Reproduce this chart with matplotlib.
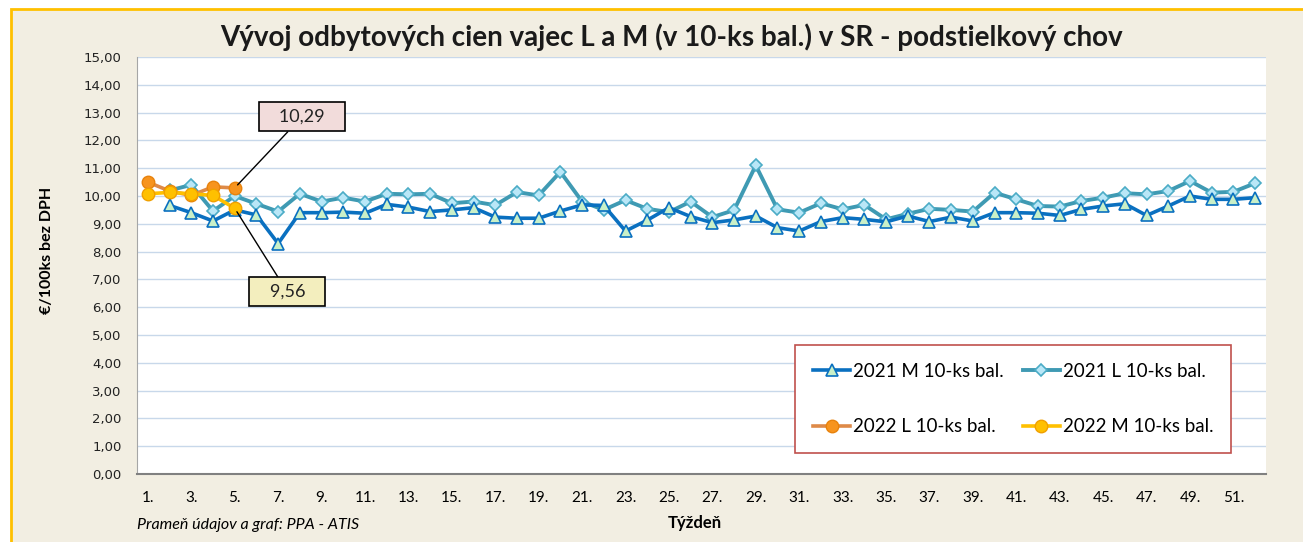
import matplotlib.pyplot as plt
from matplotlib.patches import Rectangle

# tyzdne a ceny (EUR/100 ks bez DPH)
weeks_2021 = list(range(2, 53))
m_2021 = [9.66, 9.40, 9.10, 9.50, 9.32, 8.29, 9.40, 9.40, 9.42, 9.38,
          9.70, 9.60, 9.44, 9.50, 9.58, 9.24, 9.20, 9.20, 9.46, 9.68,
          9.66, 8.74, 9.13, 9.58, 9.26, 9.04, 9.14, 9.28, 8.86, 8.74,
          9.08, 9.22, 9.16, 9.07, 9.28, 9.08, 9.24, 9.10, 9.40, 9.40,
          9.38, 9.30, 9.52, 9.64, 9.72, 9.30, 9.64, 10.00, 9.88, 9.88,
          9.94]
l_2021 = [10.20, 10.40, 9.46, 10.00, 9.72, 9.44, 10.08, 9.80, 9.94, 9.80,
          10.08, 10.06, 10.08, 9.74, 9.80, 9.67, 10.14, 10.02, 10.87, 9.80,
          9.50, 9.85, 9.54, 9.42, 9.80, 9.24, 9.49, 11.10, 9.52, 9.40,
          9.74, 9.52, 9.68, 9.16, 9.36, 9.54, 9.50, 9.44, 10.12, 9.88,
          9.64, 9.62, 9.82, 9.94, 10.10, 10.06, 10.18, 10.54, 10.12, 10.15,
          10.46]
weeks_2022 = [1, 2, 3, 4, 5]
l_2022 = [10.50, 10.18, 10.02, 10.33, 10.29]
m_2022 = [10.08, 10.13, 10.08, 10.02, 9.56]

xticks = list(range(1, 52, 2))
xlabels = ['{}.'.format(w) for w in xticks]
yticks = list(range(0, 16))
ylabels = ['{:.2f}'.format(v).replace('.', ',') for v in yticks]

beige = '#F2EEE2'
calib = ['Lato', 'DejaVu Sans']

fig = plt.figure(figsize=(13.03, 5.42), dpi=100)
fig.patch.set_facecolor('white')
fig.patches.append(Rectangle((10.5 / 1303, -0.1), 1.2, 1 - 8.5 / 542 + 0.1,
                             transform=fig.transFigure, facecolor=beige,
                             edgecolor='#FFC000', lw=2, zorder=-5))

ax = fig.add_axes([137 / 1303, 1 - 474 / 542, (1266 - 137) / 1303, (474 - 57) / 542])
ax.set_facecolor('white')

ax.plot(weeks_2021, l_2021, color='#3F9AB3', lw=2.8, marker='D', markersize=6.5,
        markerfacecolor='#B9E7F7', markeredgecolor='#4BACC6', markeredgewidth=1.2,
        label='2021 L 10-ks bal.', zorder=3)
ax.plot(weeks_2021, m_2021, color='#0A70C0', lw=2.6, marker='^', markersize=8.5,
        markerfacecolor='#C9F0C8', markeredgecolor='#0A70C0', markeredgewidth=1.2,
        label='2021 M 10-ks bal.', zorder=4)
ax.plot(weeks_2022, l_2022, color='#DE8A48', lw=2.6, marker='o', markersize=9,
        markerfacecolor='#F7941E', markeredgecolor='#E8820C', markeredgewidth=1,
        label='2022 L 10-ks bal.', zorder=5)
ax.plot(weeks_2022, m_2022, color='#FFC000', lw=2.6, marker='o', markersize=9,
        markerfacecolor='#FFC000', markeredgecolor='#F0A000', markeredgewidth=1,
        label='2022 M 10-ks bal.', zorder=6)

ax.set_xlim(0.5, 52.5)
ax.set_ylim(0, 15)
ax.set_xticks(xticks)
ax.set_xticklabels(xlabels, family=calib, fontsize=11)
ax.set_yticks(yticks)
ax.set_yticklabels(ylabels, family='DejaVu Sans', fontsize=9.5, color='#222222')
ax.tick_params(axis='x', length=0, pad=12)
ax.tick_params(axis='y', length=0, pad=11)
ax.grid(axis='y', color='#C8D8EA', lw=1)
ax.set_axisbelow(True)
for s in ['top', 'right']:
    ax.spines[s].set_visible(False)
ax.spines['left'].set_color('#A6A6A6')
ax.spines['bottom'].set_color('#808080')
ax.spines['bottom'].set_linewidth(1.5)

h, l = ax.get_legend_handles_labels()
order = [1, 2, 0, 3]
leg = ax.legend([h[i] for i in order], [l[i] for i in order], ncol=2,
                loc='upper left', bbox_to_anchor=((795 - 137) / 1129, (474 - 345) / 417),
                frameon=True, fancybox=False, edgecolor='#C0504D', facecolor='white',
                framealpha=1, prop={'family': calib, 'size': 13.5},
                handlelength=2.0, handletextpad=0.15, columnspacing=1.0,
                labelspacing=2.05, borderpad=0.95, borderaxespad=0)
leg.get_frame().set_linewidth(1.2)

ax.annotate('   10,29   ', xy=(5, 10.29), xytext=(8.1, 12.85), ha='center', va='center',
            fontsize=13, family=calib, color='#222222',
            bbox=dict(boxstyle='square,pad=0.36', fc='#F2DCDB', ec='black', lw=1.2),
            arrowprops=dict(arrowstyle='-', color='black', lw=1, shrinkA=0, shrinkB=3),
            zorder=7)
ax.annotate('   9,56   ', xy=(5, 9.56), xytext=(7.42, 6.55), ha='center', va='center',
            fontsize=13, family=calib, color='#222222',
            bbox=dict(boxstyle='square,pad=0.36', fc='#F3EEBE', ec='black', lw=1.2),
            arrowprops=dict(arrowstyle='-', color='black', lw=1, shrinkA=0, shrinkB=3),
            zorder=7)

fig.text(671 / 1303, 1 - 37 / 542, 'Vývoj odbytových cien vajec L a M (v 10-ks bal.) v SR - podstielkový chov',
         ha='center', va='center', fontsize=20, fontweight='bold', family=calib, color='#1A1A1A')
fig.text(47 / 1303, 1 - 250 / 542, '€/100ks bez DPH', rotation=90, ha='center', va='center',
         fontsize=11.5, fontweight='bold', family=calib)
fig.text(695 / 1303, 1 - 523 / 542, 'Týždeň', ha='center', va='center',
         fontsize=12, fontweight='bold', family=calib)
fig.text(137 / 1303, 1 - 525 / 542, 'Prameň údajov a graf: PPA - ATIS', ha='left', va='center',
         fontsize=11.5, style='italic', family=calib)

fig.savefig('out.png', dpi=100, facecolor=fig.get_facecolor())
